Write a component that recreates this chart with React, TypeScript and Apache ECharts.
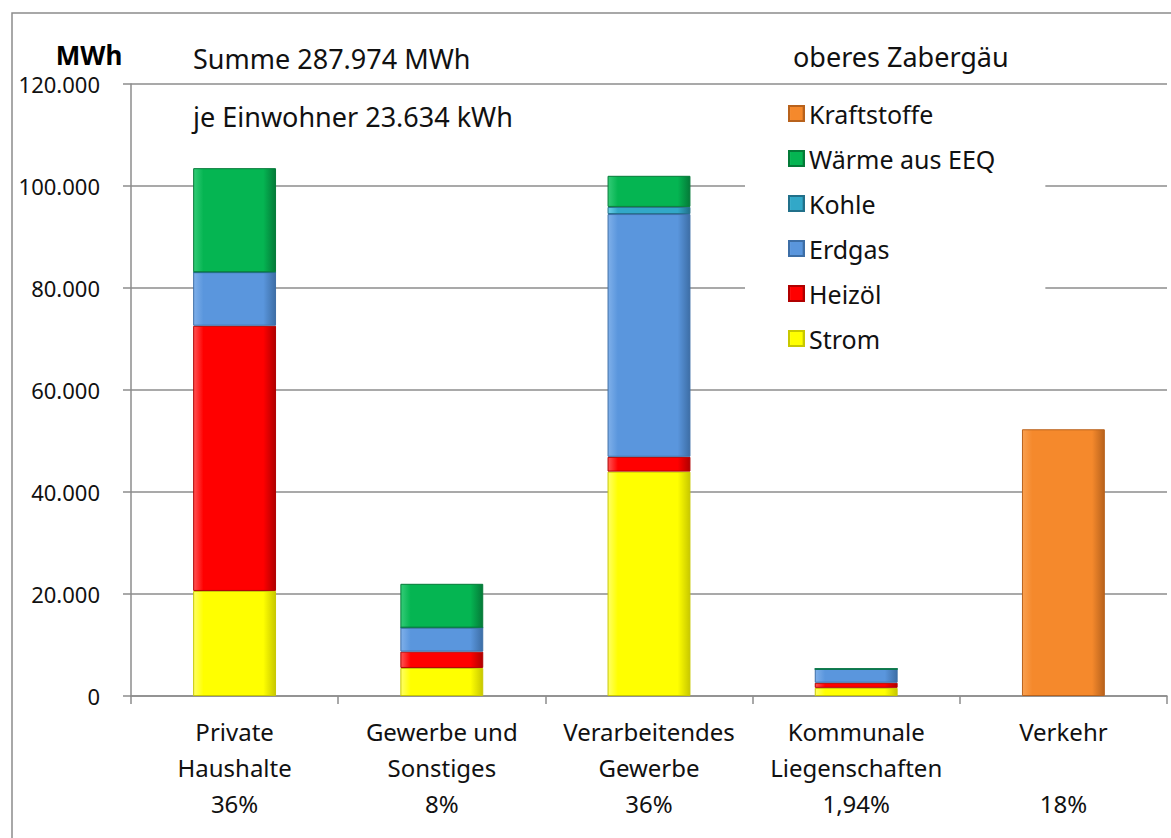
import React, { useEffect, useRef } from "react";
import * as echarts from "echarts";

const categories = ["Private\nHaushalte", "Gewerbe und\nSonstiges", "Verarbeitendes\nGewerbe", "Kommunale\nLiegenschaften", "Verkehr"];
const shares = ["36%", "8%", "36%", "1,94%", "18%"];
const strom = [20600, 5500, 44000, 1600, null];
const heizoel = [52000, 3200, 2900, 1000, null];
const erdgas = [10500, 4700, 47600, 2700, null];
const kohle = [0, 0, 1400, 0, null];
const waerme = [20400, 8600, 6100, 0, null];
const kraftstoffe = [null, null, null, null, 52300];
const yTicks = [0, 20000, 40000, 60000, 80000, 100000, 120000];

const FONT = "'Noto Sans', sans-serif";

function grad(light: string, main: string, dark: string) {
  return new echarts.graphic.LinearGradient(0, 0, 1, 0, [
    { offset: 0, color: light },
    { offset: 0.12, color: main },
    { offset: 0.85, color: main },
    { offset: 1, color: dark },
  ]);
}

function fmt(v: number) {
  return String(v).replace(/\B(?=(\d{3})+(?!\d))/g, ".");
}

export default function App() {
  const ref = useRef<HTMLDivElement>(null);
  useEffect(() => {
    document.body.style.margin = "0";
    const chart = echarts.init(ref.current!, null, { renderer: "svg" });
    const mk = (name: string, data: (number | null)[], light: string, main: string, dark: string) => ({
      name,
      type: "bar",
      stack: "total",
      data,
      barWidth: "40%",
      itemStyle: {
        color: grad(light, main, dark),
        borderColor: dark,
        borderWidth: 1,
      },
      emphasis: { disabled: true },
    });
    chart.setOption({
      animation: false,
      backgroundColor: "#ffffff",
      textStyle: { fontFamily: FONT },
      grid: { left: 131, top: 84, width: 1036, height: 612, containLabel: false },
      legend: {
        left: 745,
        top: 95,
        orient: "vertical",
        data: ["Kraftstoffe", "Wärme aus EEQ", "Kohle", "Erdgas", "Heizöl", "Strom"],
        icon: "rect",
        itemWidth: 15,
        itemHeight: 15,
        itemGap: 20,
        padding: [6, 50, 14, 43],
        backgroundColor: "#ffffff",
        textStyle: { fontFamily: FONT, fontSize: 25, color: "#111", lineHeight: 25 },
        selectedMode: false,
      },
      xAxis: {
        type: "category",
        data: categories,
        axisLine: { lineStyle: { color: "#8c8c8c", width: 1.5 } },
        axisTick: { show: true, length: 8, lineStyle: { color: "#8c8c8c", width: 1.5 } },
        axisLabel: {
          margin: 17,
          fontFamily: FONT,
          fontSize: 24,
          color: "#111",
          lineHeight: 36,
          interval: 0,
          formatter: (v: string, i: number) => {
            const lines = v.split("\n");
            if (lines.length < 2) lines.push("");
            return lines.join("\n") + "\n" + shares[i];
          },
        },
      },
      yAxis: {
        type: "value",
        min: yTicks[0],
        max: yTicks[yTicks.length - 1],
        interval: yTicks[1] - yTicks[0],
        axisLine: { show: true, lineStyle: { color: "#8c8c8c", width: 1.5 } },
        axisTick: { show: true, length: 8, lineStyle: { color: "#8c8c8c", width: 1.5 } },
        splitLine: { lineStyle: { color: "#8c8c8c", width: 1.5 } },
        axisLabel: {
          margin: 31,
          fontFamily: FONT,
          fontSize: 22,
          lineHeight: 22,
          color: "#111",
          formatter: (v: number) => fmt(v),
        },
      },
      graphic: [
        {
          type: "rect",
          shape: { x: 12, y: 13, width: 1300, height: 1000 },
          style: { fill: "none", stroke: "#8c8c8c", lineWidth: 1.5 },
          silent: true,
          z: -1,
        },
        {
          type: "text",
          x: 89,
          y: 55,
          style: { text: "MWh", fontFamily: FONT, fontSize: 26, lineHeight: 26, fontWeight: "bold", fill: "#000", textAlign: "center", textVerticalAlign: "middle" },
        },
        {
          type: "text",
          x: 193,
          y: 58,
          style: { text: "Summe 287.974 MWh", fontFamily: FONT, fontSize: 27, fill: "#111", textAlign: "left", textVerticalAlign: "middle" },
        },
        {
          type: "text",
          x: 193,
          y: 116,
          style: { text: "je Einwohner 23.634 kWh", fontFamily: FONT, fontSize: 27, fill: "#111", textAlign: "left", textVerticalAlign: "middle" },
        },
        {
          type: "text",
          x: 793,
          y: 56,
          style: { text: "oberes Zabergäu", fontFamily: FONT, fontSize: 27, fill: "#111", textAlign: "left", textVerticalAlign: "middle" },
        },
      ],
      series: [
        mk("Strom", strom, "#ffff66", "#ffff00", "#c8c800"),
        mk("Heizöl", heizoel, "#ff5555", "#ff0000", "#b00000"),
        mk("Erdgas", erdgas, "#7fb0ea", "#5a96dd", "#3d6ea6"),
        mk("Kohle", kohle, "#6fd0ea", "#32a8c8", "#21708a"),
        mk("Wärme aus EEQ", waerme, "#33cc77", "#05b552", "#047a38"),
        mk("Kraftstoffe", kraftstoffe, "#f9a050", "#f5892c", "#b8621c"),
      ],
    });
    return () => chart.dispose();
  }, []);
  return <div ref={ref} style={{ width: 1171, height: 838 }} />;
}
